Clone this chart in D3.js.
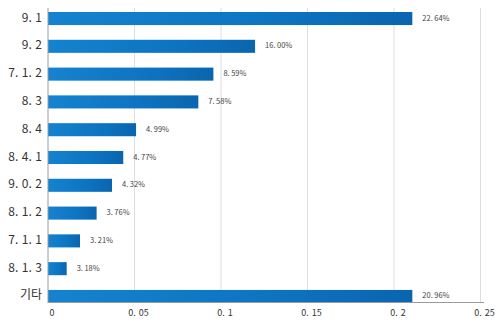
<!DOCTYPE html>
<html><head><meta charset="utf-8">
<script src="https://cdn.jsdelivr.net/npm/d3@7"></script>
<style>html,body{margin:0;padding:0;background:#fff;}svg{display:block;}</style>
</head><body>
<svg id="chart" width="500" height="323"></svg>
<script>
const categories = ["9.1","9.2","7.1.2","8.3","8.4","8.4.1","9.0.2","8.1.2","7.1.1","8.1.3","기타"];
const values = [0.2106,0.1197,0.0956,0.0869,0.0509,0.0435,0.0370,0.0281,0.0185,0.0108,0.2106];
const valueLabels = ["22.64%","16.00%","8.59%","7.58%","4.99%","4.77%","4.32%","3.76%","3.21%","3.18%","20.96%"];
const ticks = [0,0.05,0.1,0.15,0.2,0.25];
const tickLabels = ["0","0.05","0.1","0.15","0.2","0.25"];

const svg = d3.select("#chart");
const x = d3.scaleLinear().domain([0,0.25]).range([48,480.5]);
const y = d3.scaleBand().domain(categories).range([12,303]).paddingInner(0.53).paddingOuter(0);

const defs = svg.append("defs");
const grad = defs.append("linearGradient").attr("id","barGrad").attr("x1","0").attr("x2","1").attr("y1","0").attr("y2","0");
grad.append("stop").attr("offset","0").attr("stop-color","#1583cf");
grad.append("stop").attr("offset","0.6").attr("stop-color","#0d74c2");
grad.append("stop").attr("offset","1").attr("stop-color","#0a65af");

function spaced(sel, gap){
  sel.each(function(){
    const t = d3.select(this);
    const s = t.datum().__txt;
    const parts = s.split(".");
    parts.forEach((p,i)=>{
      const ts = t.append("tspan").text(p + (i<parts.length-1?".":""));
      if(i>0) ts.attr("dx",gap);
    });
  });
}

svg.append("g").selectAll("line").data(ticks.slice(1)).join("line")
  .attr("x1",d=>x(d)).attr("x2",d=>x(d)).attr("y1",8).attr("y2",303)
  .attr("stroke","#dedede").attr("stroke-width",1);

svg.append("g").selectAll("rect").data(values).join("rect")
  .attr("x",x(0)).attr("y",(d,i)=>y(categories[i]))
  .attr("width",d=>x(d)-x(0)).attr("height",y.bandwidth())
  .attr("fill","url(#barGrad)");

svg.append("line").attr("x1",48).attr("x2",48).attr("y1",8).attr("y2",303).attr("stroke","#9a9a9a");
svg.append("line").attr("x1",48).attr("x2",484).attr("y1",302.5).attr("y2",302.5).attr("stroke","#9a9a9a");

svg.append("g").selectAll("text").data(categories.map(c=>({__txt:c}))).join("text")
  .attr("x",42).attr("y",(d,i)=>y(categories[i])+y.bandwidth()/2+3)
  .attr("text-anchor","end").attr("font-family","'Noto Sans CJK KR','Noto Sans',sans-serif")
  .attr("font-size",12).attr("fill","#333")
  .call(spaced,3.5);

svg.append("g").selectAll("text").data(valueLabels.map(c=>({__txt:c}))).join("text")
  .attr("x",(d,i)=>x(values[i])+10).attr("y",(d,i)=>y(categories[i])+y.bandwidth()/2+2)
  .attr("font-family","'Noto Sans CJK KR','Noto Sans',sans-serif")
  .attr("font-size",7.5).attr("fill","#444")
  .call(spaced,1.5);

svg.append("g").selectAll("text").data(tickLabels.map(c=>({__txt:c}))).join("text")
  .attr("x",(d,i)=>x(ticks[i])+4).attr("y",316)
  .attr("text-anchor","middle").attr("font-family","'Noto Sans CJK KR','Noto Sans',sans-serif")
  .attr("font-size",9).attr("fill","#333")
  .call(spaced,3);
</script>
</body></html>
